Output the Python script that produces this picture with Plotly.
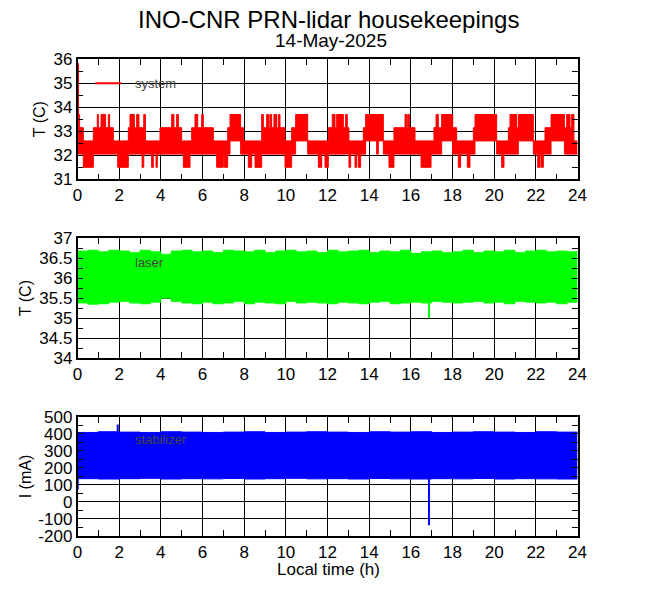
import plotly.graph_objects as go

# page body adds an 8px margin; the figure is sized to fit inside the window
OFF = 8
W, H = 660 - 2 * OFF, 595 - 2 * OFF

# ---------------- data ----------------
hours_ticks = list(range(0, 25, 2))

# system temperature (C): segments start time (h), low, high envelope
sys_t = [0.00, 0.04, 0.10, 0.28, 0.76, 0.95, 1.00, 1.13, 1.35, 1.48, 1.54, 1.72, 1.93,
         2.44, 2.52, 2.73, 2.84, 2.95, 3.10, 3.18, 3.26, 3.40, 3.56, 3.64, 3.77, 3.83,
         3.96, 4.52, 4.63, 4.76, 4.84, 5.00, 5.08, 5.40, 5.48, 5.64, 5.77, 5.96, 6.04,
         6.52, 6.68, 7.00, 7.05, 7.21, 7.32, 7.83, 7.96, 8.20, 8.36, 8.52, 8.84, 8.92,
         9.08, 9.19, 9.24, 9.32, 9.43, 9.56, 9.64, 9.72, 9.96, 10.28, 10.47, 11.05,
         11.56, 11.72, 11.88, 12.04, 12.23, 12.36, 12.44, 12.76, 12.87, 12.95, 13.03,
         13.11, 13.32, 13.40, 13.48, 13.59, 13.72, 13.83, 14.36, 14.44, 14.68, 14.95,
         15.19, 15.72, 15.80, 15.85, 15.93, 16.20, 16.49, 16.97, 17.11, 17.21, 17.32,
         17.48, 18.01, 18.20, 18.28, 18.39, 18.71, 18.84, 19.00, 19.08, 20.12, 20.36,
         20.47, 20.68, 20.76, 21.08, 21.16, 21.88, 22.09, 22.20, 22.25, 22.36, 22.44,
         22.73, 23.37, 23.48, 23.64, 23.72, 23.83]
sys_lo = [33.6, 32.05, 32.05, 31.5, 32.05, 32.05, 32.05, 32.05, 32.05, 32.05, 32.05, 32.05, 31.5,
          32.05, 32.05, 32.05, 32.05, 32.05, 31.5, 32.05, 32.05, 32.05, 31.5, 32.05, 31.5, 32.05,
          32.05, 32.05, 32.05, 32.05, 32.05, 32.05, 31.5, 32.05, 32.05, 32.05, 32.05, 32.05, 32.05,
          32.05, 31.5, 32.05, 31.5, 32.05, 32.6, 32.05, 32.05, 31.5, 32.05, 31.5, 32.05, 32.05,
          32.05, 32.05, 32.05, 32.05, 32.05, 32.05, 32.05, 32.05, 31.5, 32.05, 32.6, 32.05,
          31.5, 32.05, 31.5, 32.05, 32.05, 32.05, 32.05, 32.05, 32.05, 32.05, 31.5,
          32.05, 31.5, 32.05, 31.5, 32.05, 32.05, 32.6, 32.05, 32.6, 32.05, 31.5,
          32.05, 32.05, 32.05, 32.05, 32.05, 32.05, 31.5, 32.05, 32.05, 32.05, 32.05,
          32.6, 32.05, 32.05, 31.5, 32.05, 31.5, 32.05, 32.05, 32.6, 32.05, 31.5,
          32.05, 32.05, 32.05, 32.05, 32.6, 32.05, 31.5, 32.05, 31.5, 32.05, 32.05,
          32.6, 32.05, 32.05, 32.05, 32.05, 32.05]
sys_hi = [35.8, 33.7, 33.15, 32.6, 33.15, 33.7, 33.15, 33.7, 33.15, 33.7, 33.15, 32.6, 32.6,
          33.15, 33.7, 33.15, 33.7, 33.15, 33.15, 33.7, 32.6, 32.6, 32.6, 32.6, 32.6, 32.6,
          33.15, 33.7, 33.15, 33.7, 33.15, 32.6, 32.6, 32.6, 33.15, 33.7, 33.15, 33.7, 33.15,
          32.6, 32.6, 32.6, 32.6, 33.15, 33.7, 33.15, 32.6, 32.6, 32.6, 32.6, 33.7, 33.15,
          33.7, 33.15, 33.7, 33.15, 33.7, 33.15, 33.7, 33.15, 32.6, 33.15, 33.7, 32.6,
          32.6, 32.6, 32.6, 33.15, 33.7, 33.15, 33.7, 33.15, 33.7, 33.15, 32.6,
          32.6, 32.6, 32.6, 32.6, 32.6, 33.15, 33.7, 33.7, 33.7, 32.6, 32.6,
          33.15, 33.7, 33.15, 33.7, 33.15, 32.6, 32.6, 32.6, 33.15, 33.7, 33.15,
          33.7, 33.15, 32.6, 32.6, 32.6, 32.6, 32.6, 33.15, 33.7, 32.6, 32.6,
          32.6, 33.15, 33.7, 33.15, 33.7, 32.6, 32.6, 32.6, 32.6, 32.6, 33.15,
          33.7, 33.15, 33.7, 33.15, 33.7, 32.6]
sys_spike_t = [0.02, 0.02]
sys_spike_v = [33.6, 35.85]

# laser temperature (C): half-hour envelope
laser_t = [i * 0.5 for i in range(48)]
laser_hi = [36.68, 36.70, 36.66, 36.70, 36.68, 36.64, 36.70, 36.66, 36.60, 36.68, 36.70, 36.66,
            36.68, 36.64, 36.70, 36.68, 36.66, 36.70, 36.64, 36.68, 36.70, 36.66, 36.68, 36.64,
            36.70, 36.66, 36.68, 36.70, 36.64, 36.68, 36.66, 36.70, 36.62, 36.66, 36.68, 36.64,
            36.66, 36.70, 36.64, 36.68, 36.66, 36.70, 36.64, 36.68, 36.70, 36.66, 36.68, 36.66]
laser_lo = [35.38, 35.35, 35.36, 35.40, 35.42, 35.38, 35.36, 35.40, 35.50, 35.42, 35.38, 35.36,
            35.40, 35.36, 35.38, 35.42, 35.36, 35.40, 35.38, 35.36, 35.42, 35.38, 35.40, 35.38,
            35.36, 35.40, 35.38, 35.36, 35.40, 35.42, 35.36, 35.38, 35.40, 35.38, 35.42, 35.40,
            35.38, 35.40, 35.42, 35.38, 35.40, 35.36, 35.42, 35.40, 35.38, 35.40, 35.36, 35.40]
laser_spike_t = [16.87, 16.87]
laser_spike_v = [35.0, 36.0]

# stabilizer current (mA): hourly envelope
stab_t = list(range(24))
stab_hi = [408, 412, 410, 408, 412, 410, 408, 410, 412, 408, 410, 412,
           410, 408, 412, 410, 412, 408, 410, 412, 410, 408, 412, 410]
stab_lo = [136, 134, 136, 138, 134, 136, 135, 137, 134, 136, 138, 135,
           136, 134, 137, 135, 134, 136, 135, 137, 134, 136, 135, 134]
stab_spike_t = [0.01, 0.01, None, 1.93, 1.93, None, 16.87, 16.87]
stab_spike_v = [72, 268, None, 300, 455, None, -138, 200]

COL_SYS, COL_LAS, COL_STB = "#ff0000", "#00ff00", "#0000ff"
FONT = "Liberation Sans"


def px(rx):
    return (rx - OFF) / W


def py(ry):
    return 1 - (ry - OFF) / H


fig = go.Figure()


def band(t, lo, hi, color, xa, ya):
    xs = list(t) + [24]
    fig.add_trace(go.Scatter(x=xs, y=list(lo) + [lo[-1]], mode="lines", line=dict(color=color, width=1, shape="hv"),
                             xaxis=xa, yaxis=ya, showlegend=False, hoverinfo="skip"))
    fig.add_trace(go.Scatter(x=xs, y=list(hi) + [hi[-1]], mode="lines", line=dict(color=color, width=1, shape="hv"),
                             fill="tonexty", fillcolor=color, xaxis=xa, yaxis=ya, showlegend=False, hoverinfo="skip"))


band(sys_t, sys_lo, sys_hi, COL_SYS, "x", "y")
fig.add_trace(go.Scatter(x=sys_spike_t, y=sys_spike_v, mode="lines", line=dict(color=COL_SYS, width=2),
                         xaxis="x", yaxis="y", showlegend=False))
band(laser_t, laser_lo, laser_hi, COL_LAS, "x2", "y2")
fig.add_trace(go.Scatter(x=laser_spike_t, y=laser_spike_v, mode="lines", line=dict(color=COL_LAS, width=2),
                         xaxis="x2", yaxis="y2", showlegend=False))
band(stab_t, stab_lo, stab_hi, COL_STB, "x3", "y3")
fig.add_trace(go.Scatter(x=stab_spike_t, y=stab_spike_v, mode="lines", line=dict(color=COL_STB, width=2),
                         xaxis="x3", yaxis="y3", showlegend=False, connectgaps=False))

xdom = [px(77.5), px(577.5)]
panels = [(59.3, 179.3), (238.3, 358.0), (416.8, 535.8)]
ydoms = [[py(b), py(t)] for t, b in panels]

yspecs = [
    dict(range=[31, 36], vals=[31, 32, 33, 34, 35, 36], minor=0.5),
    dict(range=[34, 37], vals=[34, 34.5, 35, 35.5, 36, 36.5, 37], minor=0.25),
    dict(range=[-200, 500], vals=[-200, -100, 0, 100, 200, 300, 400, 500], minor=50),
]

axcommon = dict(showline=True, linecolor="black", linewidth=1.5, mirror="allticks",
                showgrid=True, gridcolor="black", gridwidth=1, zeroline=False,
                ticks="inside", ticklen=6, tickcolor="black", automargin=False,
                tickfont=dict(family=FONT, size=17, color="black"))

lay = {}
for i in range(3):
    sx = "" if i == 0 else str(i + 1)
    lay["xaxis" + sx] = dict(domain=xdom, range=[0, 24], anchor="y" + sx,
                             tickmode="array", tickvals=hours_ticks, ticktext=[str(h) for h in hours_ticks],
                             minor=dict(tickmode="linear", tick0=0, dtick=1, ticks="inside", ticklen=6,
                                        tickcolor="black", showgrid=False),
                             **axcommon)
    ys = yspecs[i]
    lay["yaxis" + sx] = dict(domain=ydoms[i], range=ys["range"], anchor="x" + sx,
                             tickmode="array", tickvals=ys["vals"],
                             ticktext=["%g" % v for v in ys["vals"]],
                             minor=dict(tickmode="linear", tick0=ys["range"][0], dtick=ys["minor"],
                                        ticks="inside", ticklen=6, tickcolor="black", showgrid=False),
                             **axcommon)

fig.update_layout(width=W, height=H, margin=dict(l=0, r=0, t=0, b=0, autoexpand=False),
                  paper_bgcolor="white", plot_bgcolor="white", showlegend=False, **lay)

ann = [
    dict(text="INO-CNR PRN-lidar housekeepings", x=328, y=20, size=24),
    dict(text="14-May-2025", x=331, y=41, size=19),
    dict(text="Local time (h)", x=328, y=569, size=17),
]
annotations = []
for a in ann:
    annotations.append(dict(text=a["text"], x=px(a["x"]), y=py(a["y"]), xref="paper", yref="paper",
                            xanchor="center", yanchor="middle", showarrow=False,
                            font=dict(family=FONT, size=a["size"], color="black")))
for lbl, (t, b), cx in zip(["T (C)", "T (C)", "I (mA)"], panels, [39, 25, 25]):
    annotations.append(dict(text=lbl, x=px(cx), y=py((t + b) / 2), xref="paper", yref="paper",
                            xanchor="center", yanchor="middle", textangle=-90, showarrow=False,
                            font=dict(family=FONT, size=16, color="black")))

# legend labels
leg = [("system", "x", "y", 35.0, COL_SYS), ("laser", "x2", "y2", 36.4, COL_LAS),
       ("stabilizer", "x3", "y3", 366, COL_STB)]
shapes = []
for name, xa, ya, yv, col in leg:
    annotations.append(dict(text=name, x=2.65, y=yv, xref=xa, yref=ya, xanchor="left", yanchor="middle",
                            showarrow=False, font=dict(family=FONT, size=13, color="#444444")))
    shapes.append(dict(type="line", x0=0.85, x1=2.1, y0=yv, y1=yv, xref=xa, yref=ya,
                       line=dict(color=col, width=2)))

fig.update_layout(annotations=annotations, shapes=shapes)
fig.write_html("out.html")
